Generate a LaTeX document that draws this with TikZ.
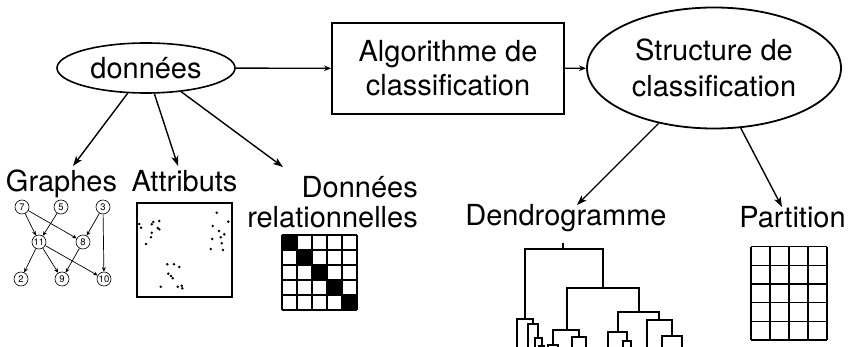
\documentclass[tikz,border=0pt]{standalone}
\usepackage{fontspec}
\setmainfont{TeX Gyre Heros}
\usetikzlibrary{arrows.meta,shapes.geometric}
\begin{document}
\begin{tikzpicture}[x=1pt,y=-1pt,
  big/.style={font=\fontsize{29}{34}\selectfont},
  arr/.style={line width=1.4pt,-{Stealth[length=10pt,width=7pt,inset=2.5pt]}},
  sarr/.style={line width=1.4pt,-{Stealth[length=7pt,width=5.5pt,inset=2pt]}},
  gnode/.style={circle,draw,line width=0.6pt,minimum size=14pt,inner sep=0pt,font=\fontsize{9.5}{10}\selectfont},
  garr/.style={line width=0.7pt,-{Stealth[length=4.5pt,width=4pt]}},
  dendro/.style={line width=1.8pt},
  gridline/.style={line width=1.2pt},
  dot/.style={fill=black}]
\useasboundingbox (0,0) rectangle (849,347);

% top row
\node[ellipse,draw,line width=1.6pt,minimum width=178pt,minimum height=50pt,inner sep=0pt,big] (don) at (146,68) {données};
\node[rectangle,draw,line width=1.8pt,minimum width=232pt,minimum height=91pt,inner sep=0pt,align=center,big] (alg) at (448,68.5) {Algorithme de\\classification};
\node[ellipse,draw,line width=1.8pt,minimum width=254pt,minimum height=121pt,inner sep=0pt,align=center,font=\fontsize{29}{36}\selectfont] (str) at (714,68) {Structure de\\classification};
\draw[sarr] (don) -- (alg);
\draw[sarr] (alg) -- (str);

% labels
\node[big,anchor=base,inner sep=0pt] (lgraph) at (61.5,192) {Graphes};
\node[big,anchor=base,inner sep=0pt] (lattr) at (184.5,192) {Attributs};
\node[anchor=east,inner sep=0pt,align=right,font=\fontsize{29}{30}\selectfont] (ldon) at (418,202) {Données\\relationnelles};
\node[big,anchor=base,inner sep=0pt] (ldend) at (566,226) {Dendrogramme};
\node[big,anchor=base,inner sep=0pt] (lpart) at (792.5,228) {Partition};

\coordinate (tg) at (73,166);
\coordinate (ta) at (178,166);
\coordinate (td) at (283,167);
\coordinate (tde) at (577,205);
\coordinate (tp) at (782,207);
\draw[arr] (don.234) -- (tg);
\draw[arr] (don.288) -- (ta);
\draw[arr] (don.326) -- (td);
\draw[arr] (str.225) -- (tde);
\draw[arr] (str.294) -- (tp);

% graph
\node[gnode] (g7) at (22,207) {7};
\node[gnode] (g5) at (61,207) {5};
\node[gnode] (g3) at (103,207) {3};
\node[gnode] (g11) at (39,242) {11};
\node[gnode] (g8) at (83,242) {8};
\node[gnode] (g2) at (21,279) {2};
\node[gnode] (g9) at (62,279) {9};
\node[gnode] (g10) at (104,279) {10};
\draw[garr] (g7) -- (g11);
\draw[garr] (g7) -- (g8);
\draw[garr] (g5) -- (g11);
\draw[garr] (g3) -- (g8);
\draw[garr] (g3) -- (g10);
\draw[garr] (g11) -- (g2);
\draw[garr] (g11) -- (g9);
\draw[garr] (g11) -- (g10);
\draw[garr] (g8) -- (g9);

% attributes box
\draw[line width=1.4pt] (137,203) rectangle (232,297);
\foreach \p in {(139.3,224),(141,227.7),(151.7,224.3),(153.3,222),(159.3,221),(157.7,228),(159.3,229.3),(151.7,232.7),(151,237.3),(146,244),
(216.7,212.7),(228.3,221.7),(212.7,226),(219,231),(224.3,234.3),(220.7,237.3),(212.3,239),(221.7,243.3),(210.7,249),(223,250),
(167.3,264.3),(174,264.3),(179.3,267),(168.3,273.7),(171,276),(172.7,278.3),(160.7,286.7),(177.7,286.7),(181.7,285.7),(182.3,288.3)}
  \fill[dot] \p circle (1.4pt);

% relational matrix
\foreach \i in {0,...,4}
  \fill[black] (282+15*\i,235+15*\i) rectangle +(15,15);
\foreach \i in {0,...,5} {
  \draw[gridline] (282+15*\i,235) -- (282+15*\i,310);
  \draw[gridline] (282,235+15*\i) -- (357,235+15*\i);
}

% partition grid
\foreach \x in {751,770,789,808,827}
  \draw[gridline] (\x,246.7) -- (\x,340);
\foreach \y in {246.7,265.3,284,302.7,321.3,340}
  \draw[gridline] (751,\y) -- (827,\y);

% dendrogram
\begin{scope}[dendro]
\draw (563,243) -- (563,249);
\draw (525,319) -- (525,249) -- (603,249) -- (603,288);
\draw (567,330) -- (567,288) -- (639,288) -- (639,312);
\draw (618,332) -- (618,312) -- (659,312) -- (659,320);
\draw (647,348) -- (647,320) -- (672,320) -- (672,336);
\draw (662,348) -- (662,336) -- (682,336) -- (682,348);
\draw (608,348) -- (608,332) -- (627,332) -- (627,341);
\draw (623,348) -- (623,341) -- (631,341) -- (631,348);
\draw (553,345) -- (553,330) -- (579,330) -- (579,337);
\draw (548,348) -- (548,345) -- (558,345) -- (558,348);
\draw (572,348) -- (572,337) -- (586,337) -- (586,348);
\draw (517,348) -- (517,319) -- (533,319) -- (533,324);
\draw (528,348) -- (528,324) -- (538,324) -- (538,338);
\draw (535,348) -- (535,338) -- (542,338) -- (542,346);
\draw (539,348) -- (539,346) -- (544,346) -- (544,348);
\end{scope}
\end{tikzpicture}
\end{document}
